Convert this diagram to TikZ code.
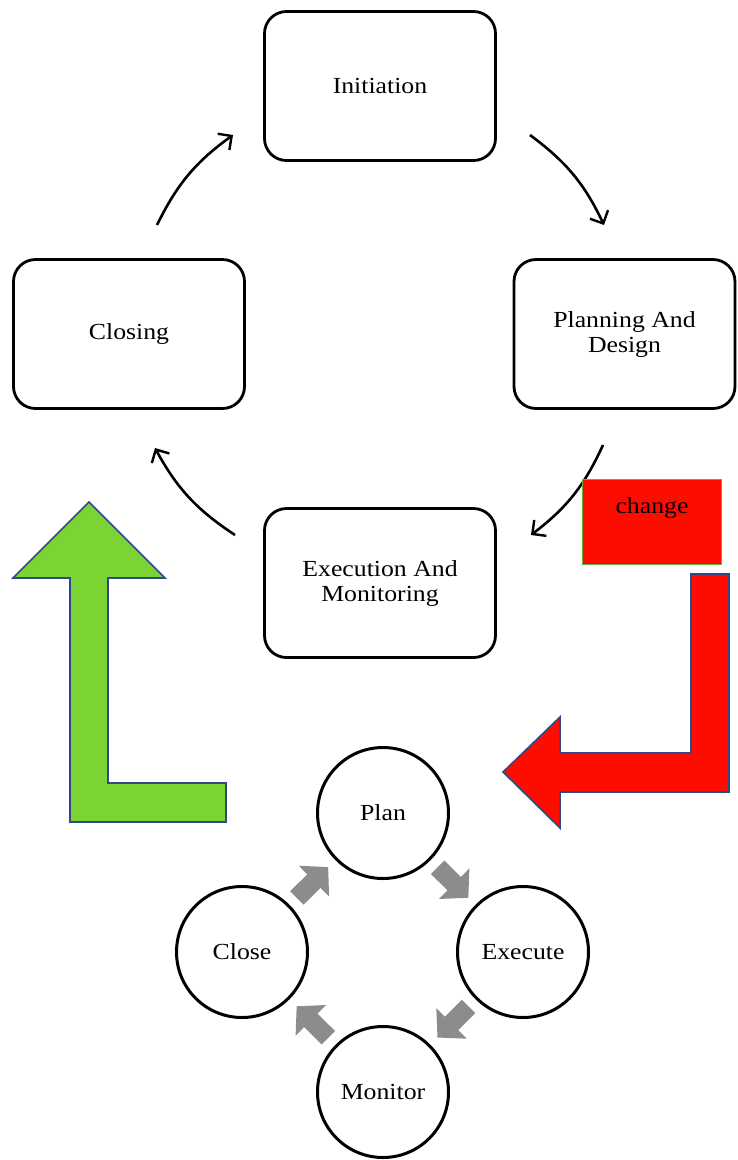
\documentclass[tikz,border=0pt]{standalone}
\usepackage{fontspec}
\setmainfont{Liberation Serif}[FakeStretch=1.12]
\usetikzlibrary{arrows.meta}
\definecolor{chred}{RGB}{255,12,0}
\definecolor{chgreen}{RGB}{124,212,52}
\definecolor{edgeblue}{RGB}{47,72,140}
\definecolor{boxgreen}{RGB}{100,180,60}
\definecolor{arrgray}{RGB}{140,140,140}
\begin{document}
\begin{tikzpicture}[x=1pt,y=-1pt,
  lbl/.style={font=\fontsize{23}{25}\selectfont},
  phase/.style={lbl, draw, line width=2.8pt, rounded corners=22pt, minimum width=231pt, minimum height=149pt, align=center, inner sep=0pt},
  stage/.style={lbl, draw, circle, line width=3pt, minimum size=131pt, inner sep=0pt},
  cyc/.style={line width=2.6pt, -{Straight Barb[length=10pt,width=20pt,line width=2.4pt]}, bend left=14},
  grayarr/.style={draw=arrgray, line width=19pt, -{Triangle[length=20pt,width=42pt]}, shorten <=10pt, shorten >=10pt},
  bigarrow/.style={draw=edgeblue, line width=1.6pt, line join=miter},
  changebox/.style={lbl, fill=chred, draw=boxgreen, line width=1.8pt, minimum width=139pt, inner xsep=0pt, inner ysep=6pt, text height=28pt, text depth=45pt, anchor=north}
]
\useasboundingbox (0,0) rectangle (738,1160);

% phase boxes
\node[phase] (init) at (380,86) {Initiation};
\node[phase, minimum width=221pt] (plandes) at (624.5,334) {Planning And\\Design};
\node[phase] (closing) at (129,334) {Closing};
\node[phase] (exmon) at (380,583) {Execution And\\Monitoring};

% cycle arrows
\coordinate (a1s) at (157,225); \coordinate (a1e) at (233,135);
\coordinate (a2s) at (530,135); \coordinate (a2e) at (604,225);
\coordinate (a3s) at (603,445); \coordinate (a3e) at (531,535);
\coordinate (a4s) at (235,535); \coordinate (a4e) at (155,448);
\draw[cyc] (a1s) to (a1e);
\draw[cyc] (a2s) to (a2e);
\draw[cyc] (a3s) to (a3e);
\draw[cyc] (a4s) to (a4e);

% change box
\node[changebox] (chg) at (652,478.5) {change};

% big bent arrows
\draw[bigarrow, fill=chgreen] (89,502) -- (165,578) -- (108,578) -- (108,783) -- (226,783) -- (226,822) -- (70,822) -- (70,578) -- (13,578) -- cycle;
\draw[bigarrow, fill=chred] (691,574) -- (729,574) -- (729,792) -- (560,792) -- (560,828) -- (503,772) -- (560,717) -- (560,753) -- (691,753) -- cycle;

% small cycle
\node[stage] (plan) at (383,813) {Plan};
\node[stage] (exec) at (523,952) {Execute};
\node[stage] (mon) at (383,1092) {Monitor};
\node[stage] (close) at (242,952) {Close};
\draw[grayarr] (plan) -- (exec);
\draw[grayarr] (exec) -- (mon);
\draw[grayarr] (mon) -- (close);
\draw[grayarr] (close) -- (plan);
\end{tikzpicture}
\end{document}
